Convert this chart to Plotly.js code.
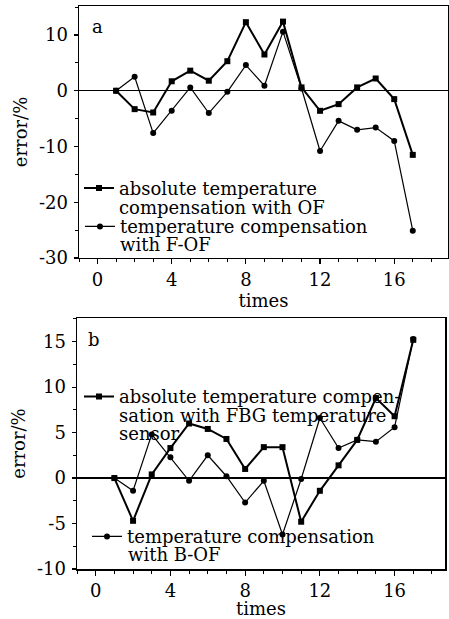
<!DOCTYPE html>
<html>
<head>
<meta charset="utf-8">
<script src="https://cdn.plot.ly/plotly-3.0.1.min.js"></script>
<style>html,body{margin:0;padding:0;background:#fff;}#chart{width:449px;height:619px;}</style>
</head>
<body>
<div id="chart"></div>
<script>
// ---- data ----
var times = [1, 2, 3, 4, 5, 6, 7, 8, 9, 10, 11, 12, 13, 14, 15, 16, 17];

// panel a
var errAbsOF = [0, -3.3, -3.9, 1.7, 3.6, 1.8, 5.3, 12.3, 6.5, 12.4, 0.6, -3.6, -2.4, 0.6, 2.2, -1.5, -11.5];
var errFOF   = [0, 2.5, -7.6, -3.6, 0.6, -4.0, -0.2, 4.6, 0.9, 10.6, 0.4, -10.8, -5.4, -7.0, -6.6, -9.0, -25.1];

// panel b
var errAbsFBG = [0, -4.7, 0.4, 3.3, 6.0, 5.4, 4.3, 1.0, 3.4, 3.4, -4.8, -1.4, 1.4, 4.2, 8.8, 6.8, 15.2];
var errBOF    = [0, -1.4, 4.8, 2.3, -0.3, 2.5, 0.2, -2.7, -0.3, -6.2, -0.1, 6.6, 3.3, 4.2, 4.0, 5.6, 15.3];

// tick labels
var aYTickVals = [-30, -20, -10, 0, 10];
var aYTickText = ['-30', '-20', '-10', '0', '10'];
var bYTickVals = [-10, -5, 0, 5, 10, 15];
var bYTickText = ['-10', '-5', '0', '5', '10', '15'];

// legend / label texts
var nameAbsOF = ['absolute temperature', 'compensation with OF'];
var nameFOF = ['temperature compensation', 'with F-OF'];
var nameAbsFBG = ['absolute temperature compen-', 'sation with FBG temperature', 'sensor'];
var nameBOF = ['temperature compensation', 'with B-OF'];

// ---- styling ----
var FONT = {family: 'DejaVu Serif', size: 18, color: '#000'};

function lineTrace(y, xa, ya, symbol, width, name, legendId) {
  return {
    x: times, y: y, xaxis: xa, yaxis: ya,
    type: 'scatter', mode: 'lines+markers',
    line: {color: '#000', width: width},
    marker: {symbol: symbol, size: 6, color: '#000'},
    name: name, legend: legendId, showlegend: true,
    hoverinfo: 'skip'
  };
}

var data = [
  lineTrace(errAbsOF, 'x', 'y', 'square', 2, nameAbsOF[0], 'legend'),
  lineTrace(errFOF, 'x', 'y', 'circle', 1.2, nameFOF[0], 'legend2'),
  lineTrace(errAbsFBG, 'x2', 'y2', 'square', 2, nameAbsFBG[0], 'legend3'),
  lineTrace(errBOF, 'x2', 'y2', 'circle', 1.2, nameBOF[0], 'legend4')
];

function mainX(domain, anchor, range, standoff) {
  return {
    domain: domain, anchor: anchor, range: range,
    tickmode: 'linear', tick0: 0, dtick: 4,
    ticks: 'outside', ticklen: 5, tickwidth: 1.2, tickcolor: '#000',
    minor: {tickmode: 'linear', tick0: 0, dtick: 1, ticks: 'outside', ticklen: 3, tickwidth: 1, tickcolor: '#000'},
    showline: true, linecolor: '#000', linewidth: 1.5, mirror: true,
    showgrid: false, zeroline: false,
    tickfont: FONT,
    title: {text: 'times', font: FONT, standoff: standoff},
    automargin: false, fixedrange: true
  };
}
function mainY(domain, anchor, range, vals, text, minorStep) {
  return {
    domain: domain, anchor: anchor, range: range,
    tickmode: 'array', tickvals: vals, ticktext: text,
    ticks: 'outside', ticklen: 4, tickwidth: 1.2, tickcolor: '#000',
    minor: {tickmode: 'linear', tick0: 0, dtick: minorStep, ticks: 'outside', ticklen: 3, tickwidth: 1, tickcolor: '#000'},
    showline: true, linecolor: '#000', linewidth: 1.5, mirror: true,
    showgrid: false,
    zeroline: true, zerolinecolor: '#000', zerolinewidth: 1.5,
    tickfont: FONT, ticklabelstandoff: 2,
    title: {text: 'error/%', font: FONT, standoff: 6},
    automargin: false, fixedrange: true
  };
}
function mirrorX(over, anchor, range) {
  return {
    overlaying: over, anchor: anchor, side: 'top', range: range,
    tickmode: 'linear', tick0: 0, dtick: 4,
    ticks: 'inside', ticklen: 5, tickwidth: 1.2, tickcolor: '#000',
    minor: {tickmode: 'linear', tick0: 0, dtick: 1, ticks: 'inside', ticklen: 3, tickwidth: 1, tickcolor: '#000'},
    showticklabels: false, showline: false, showgrid: false, zeroline: false, fixedrange: true
  };
}
function mirrorY(over, anchor, range, vals, minorStep) {
  return {
    overlaying: over, anchor: anchor, side: 'right', range: range,
    tickmode: 'array', tickvals: vals,
    ticks: 'inside', ticklen: 5, tickwidth: 1.2, tickcolor: '#000',
    minor: {tickmode: 'linear', tick0: 0, dtick: minorStep, ticks: 'inside', ticklen: 3, tickwidth: 1, tickcolor: '#000'},
    showticklabels: false, showline: false, showgrid: false, zeroline: false, fixedrange: true
  };
}

var aXRange = [-1, 18.9], aYRange = [-30, 15.2];
var bXRange = [-1, 18.7], bYRange = [-10, 17.6];

function leg(x, y) {
  return {x: x, y: y, xanchor: 'left', yanchor: 'middle', xref: 'paper', yref: 'paper',
          bgcolor: 'rgba(0,0,0,0)', borderwidth: 0, font: FONT, itemwidth: 30,
          itemclick: false, itemdoubleclick: false};
}
function note(text, x, y, anchor) {
  return {text: text, x: x, y: y, xref: 'paper', yref: 'paper', showarrow: false,
          xanchor: anchor || 'left', yanchor: 'middle', font: FONT, borderpad: 0};
}

var layout = {
  width: 449, height: 619,
  margin: {l: 77, r: 1, t: 6, b: 50},
  paper_bgcolor: '#fff', plot_bgcolor: '#fff',
  font: FONT,
  xaxis: mainX([0.0054, 1], 'y', aXRange, 0),
  yaxis: mainY([0.5524, 1], 'x', aYRange, aYTickVals, aYTickText, 5),
  xaxis2: mainX([0, 0.992], 'y2', bXRange, 4),
  yaxis2: mainY([0, 0.4458], 'x2', bYRange, bYTickVals, bYTickText, 2.5),
  xaxis3: mirrorX('x', 'y', aXRange),
  yaxis3: mirrorY('y', 'x', aYRange, aYTickVals, 5),
  xaxis4: mirrorX('x2', 'y2', bXRange),
  yaxis4: mirrorY('y2', 'x2', bYRange, bYTickVals, 2.5),
  legend: leg(0.0054, 0.6762),
  legend2: leg(0.008, 0.608),
  legend3: leg(0.0054, 0.306),
  legend4: leg(0.027, 0.0574),
  annotations: [
    note('a', 0.0566, 0.9627, 'center'),
    note('b', 0.0445, 0.4085, 'center'),
    note(nameAbsOF[1], 0.1105, 0.6425),
    note(nameFOF[1], 0.1135, 0.5767),
    note(nameAbsFBG[1], 0.1105, 0.2735),
    note(nameAbsFBG[2], 0.1105, 0.241),
    note(nameBOF[1], 0.1348, 0.0261)
  ],
  showlegend: true
};

Plotly.newPlot('chart', data, layout, {staticPlot: true, displayModeBar: false});
</script>
</body>
</html>
